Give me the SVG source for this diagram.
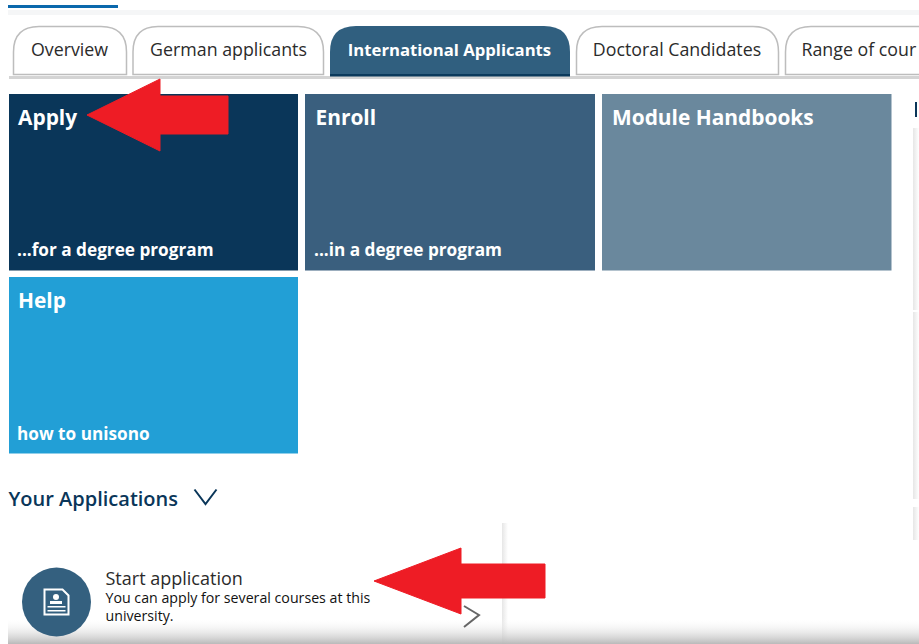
<svg xmlns="http://www.w3.org/2000/svg" width="919" height="644" viewBox="0 0 919 644">
<defs>
<linearGradient id="bottomShade" x1="0" y1="0" x2="0" y2="1"><stop offset="0" stop-color="#ffffff" stop-opacity="0"/><stop offset="1" stop-color="#b9b9b9"/></linearGradient>
<linearGradient id="sideShade" x1="0" y1="0" x2="1" y2="0"><stop offset="0" stop-color="#e6e6e6"/><stop offset="1" stop-color="#ffffff"/></linearGradient>
</defs>
<style>
text{font-family:"Open Sans","Noto Sans","Liberation Sans",sans-serif}
.tab{fill:#fff;stroke:#bdbdbd;stroke-width:1.5}
.tabt{font-size:17.800px;fill:#2b2b2b;text-anchor:middle}
.title{font-size:20.900px;font-weight:700;fill:#fff}
.sub{font-size:17.200px;font-weight:700;fill:#fff}
.arrow{fill:#ee1c25;stroke:#ee1c25;stroke-width:1;stroke-linejoin:round}
</style>
<rect width="919" height="644" fill="#fff"/>
<g id="top-bar"><rect x="8" y="5" width="110" height="3" fill="#0b68ac"/><rect x="8" y="10" width="911" height="5" fill="#f5f6f7"/></g>
<g id="tab-rule"><rect x="9" y="76" width="910" height="3" fill="#d4d4d4"/></g>
<g id="tab-overview"><path class="tab" d="M13.500 74.500V52Q13.500 26.500 39 26.500H101Q126.500 26.500 126.500 52V74.500Z"/><text class="tabt" x="69.500" y="56">Overview</text></g>
<g id="tab-german"><path class="tab" d="M133 74.500V52Q133 26.500 158 26.500H298Q323.500 26.500 323.500 52V74.500Z"/><text class="tabt" x="228.500" y="56">German applicants</text></g>
<g id="tab-international"><path d="M330 76V52Q330 26 356 26H544Q570 26 570 52V76Z" fill="#305f7f"/><rect x="330" y="74" width="240" height="2.500" fill="#0b3a5c"/><text style="font-size:16.700px;font-weight:700;fill:#fff;text-anchor:middle" x="449.500" y="56">International Applicants</text></g>
<g id="tab-doctoral"><path class="tab" d="M576.500 74.500V52Q576.500 26.500 602 26.500H753Q778.500 26.500 778.500 52V74.500Z"/><text class="tabt" x="677" y="56">Doctoral Candidates</text></g>
<g id="tab-range"><path class="tab" d="M785.500 74.500V52Q785.500 26.500 811 26.500H925V74.500Z"/><text class="tabt" x="801.500" y="56" style="text-anchor:start">Range of cour</text></g>
<g id="tile-apply"><rect x="9" y="94" width="289" height="176.500" fill="#0a3659"/><text class="title" x="18" y="125">Apply</text><text class="sub" x="17" y="256">...for a degree program</text></g>
<g id="tile-enroll"><rect x="305" y="94" width="290" height="176.500" fill="#3a5f7e"/><text class="title" x="315.500" y="125">Enroll</text><text class="sub" x="314" y="256">...in a degree program</text></g>
<g id="tile-module"><rect x="602" y="94" width="289.500" height="176.500" fill="#6a889d"/><text class="title" x="612" y="125">Module Handbooks</text></g>
<g id="tile-help"><rect x="9" y="277" width="289" height="176.500" fill="#229fd6"/><text class="title" x="18" y="308">Help</text><text class="sub" x="17" y="440">how to unisono</text></g>
<g id="your-applications"><text x="8.500" y="506" font-size="20" font-weight="600" fill="#0a3659">Your Applications</text><path d="M194.500 489.500L205.500 504L216.500 489.500" fill="none" stroke="#0a3659" stroke-width="2"/></g>
<g id="right-panels"><rect x="915" y="102" width="2" height="15" fill="#0a3659"/><rect x="913" y="128" width="6" height="182" fill="url(#sideShade)"/><rect x="913" y="312" width="6" height="187" fill="url(#sideShade)"/><rect x="913" y="507" width="6" height="33" fill="url(#sideShade)"/></g>
<g id="card-start"><rect x="502" y="523" width="6" height="121" fill="url(#sideShade)"/>
<rect x="8" y="618" width="911" height="26" fill="url(#bottomShade)"/>
<circle cx="56.500" cy="602" r="34.500" fill="#34607f"/>
<path d="M44.500 589.500H62.500L68.500 595.500V614.500H44.500Z" fill="#34607f" stroke="#fff" stroke-width="2"/>
<circle cx="56" cy="597" r="3" fill="#fff"/><rect x="50" y="601" width="12" height="3" fill="#fff"/><rect x="47.500" y="606" width="18" height="1.500" fill="#fff"/><rect x="47.500" y="610" width="18" height="1.500" fill="#fff"/>
<text x="105.500" y="585" font-size="18" fill="#2b2b2b">Start application</text>
<text x="105.500" y="603" font-size="14.200" fill="#111">You can apply for several courses at this</text>
<text x="105.500" y="621" font-size="14.200" fill="#111">university.</text>
<path d="M464 606L479 615L464 627" fill="none" stroke="#666" stroke-width="2"/></g>
<g id="arrow-apply"><path class="arrow" d="M87 115L160 79V96H228V134H160V151Z"/></g>
<g id="arrow-start"><path class="arrow" d="M374 581L461 548V564H545V598H461V614Z"/></g>
</svg>
